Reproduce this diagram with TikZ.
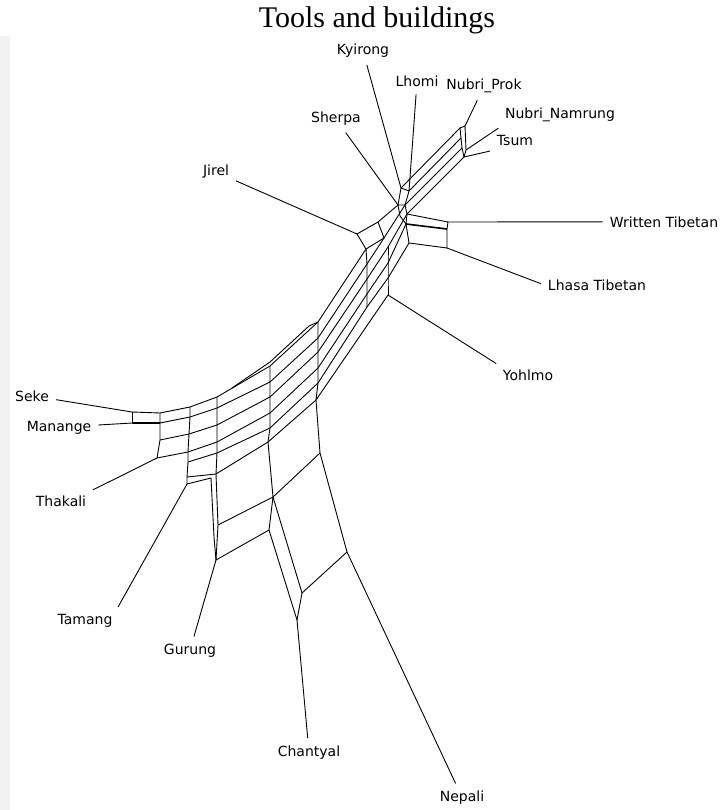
\documentclass[tikz,border=0pt]{standalone}
\usepackage{fontspec}
\setmainfont{Liberation Serif}
\newfontfamily\labelfont{DejaVu Sans}
\usetikzlibrary{positioning}

\begin{document}
\begin{tikzpicture}[x=1pt,y=-1pt,
    web/.style={line width=0.9pt,line join=round},
    heavy/.style={line width=1.6pt},
    leaf/.style={font=\labelfont\fontsize{14}{16}\selectfont,anchor=base,inner sep=4pt},
    tie/.style={web,shorten >=3pt}]
    \useasboundingbox (0,0) rectangle (724,810);
    \fill[black!5] (0,36) rectangle (10,810);

    % Title
    \node[font=\fontsize{30}{34}\selectfont,anchor=base] (title) at (377,28) {Tools and buildings};

    % Labels
    \node[leaf] (kyirong) at (363,55) {Kyirong};
    \node[leaf] (lhomi) at (417,87) {Lhomi};
    \node[leaf] (prok) at (484,90) {Nubri\_Prok};
    \node[leaf] (namrung) at (560,119) {Nubri\_Namrung};
    \node[leaf] (tsum) at (515,146) {Tsum};
    \node[leaf] (sherpa) at (336,123) {Sherpa};
    \node[leaf] (jirel) at (216,176) {Jirel};
    \node[leaf] (written) at (664,227) {Written Tibetan};
    \node[leaf] (lhasa) at (597,290) {Lhasa Tibetan};
    \node[leaf] (yohlmo) at (528,380) {Yohlmo};
    \node[leaf] (seke) at (32,401) {Seke};
    \node[leaf] (manange) at (59,431) {Manange};
    \node[leaf] (thakali) at (61,506) {Thakali};
    \node[leaf] (tamang) at (85,624) {Tamang};
    \node[leaf] (gurung) at (190,654) {Gurung};
    \node[leaf] (chantyal) at (309,756) {Chantyal};
    \node[leaf] (nepali) at (462,801) {Nepali};

    % Attachment points
    \coordinate (kyi) at (401,188);
    \coordinate (lho) at (409,191);
    \coordinate (she) at (398,205);
    \coordinate (jir) at (357,234);
    \coordinate (wri) at (448,222);
    \coordinate (lha) at (447,248);
    \coordinate (yoh) at (388,295);
    \coordinate (pro) at (465,126);
    \coordinate (nam) at (466,150);
    \coordinate (tsu) at (464,157);
    \coordinate (sek) at (132,412);
    \coordinate (man) at (132,423);
    \coordinate (tha) at (157,458);
    \coordinate (tam) at (187,484);
    \coordinate (gur) at (216,560);
    \coordinate (cha) at (297,620);
    \coordinate (nep) at (347,552);

    % Left block
    \draw[web] (sek) -- (man);
    \draw[web] (sek) -- (160,413);
    \draw[web,heavy] (man) -- (160,423);

    % Columns
    \draw[web] (160,413) -- (160,423) -- (160,440) -- (tha);
    \draw[web] (190,407) -- (190,417) -- (189,434) -- (188,452) -- (188,462) -- (187,477) -- (tam);
    \draw[web] (217,397) -- (217,408) -- (217,425) -- (217,442) -- (217,453) -- (216,474);
    \draw[web] (270,366) -- (270,382) -- (270,397) -- (270,413) -- (270,428) -- (268,442) -- (273,497) -- (269,530);
    \draw[web] (318,322) -- (318,338) -- (318,352) -- (318,368) -- (318,383) -- (316,400) -- (320,453) -- (nep);
    \draw[web] (366,249) -- (367,264) -- (367,279) -- (367,294) -- (367,307);
    \draw[web] (388,247) -- (388,263) -- (388,278) -- (yoh);

    % Rails
    \draw[web] (160,413) -- (190,407) -- (217,397) -- (270,366) -- (318,322) -- (366,249);
    \draw[web] (232,388) -- (270,362) -- (309,326) -- (318,322);
    \draw[web] (160,423) -- (190,417) -- (217,408) -- (270,382) -- (318,338) -- (367,264) -- (384,238) -- (405,205);
    \draw[web] (160,440) -- (189,434) -- (217,425) -- (270,397) -- (318,352) -- (367,279) -- (388,247) -- (407,214);
    \draw[web] (tha) -- (188,452) -- (217,442) -- (270,413) -- (318,368) -- (367,294) -- (388,263) -- (406,224);
    \draw[web] (188,462) -- (217,453) -- (270,428) -- (318,383) -- (367,307) -- (388,278) -- (409,243);
    \draw[web] (216,474) -- (268,442) -- (316,400) -- (yoh);

    % Jirel box
    \draw[web] (jir) -- (366,249) -- (384,238) -- (378,222) -- cycle;
    \draw[web] (378,222) -- (she);

    % Hub
    \draw[web] (kyi) -- (lho) -- (405,205) -- (she) -- cycle;
    \draw[web] (405,205) -- (407,214) -- (406,224) -- (409,243);
    \draw[web] (she) -- (400,216) -- (406,224);

    % Tibetan box
    \draw[web] (407,214) -- (wri) -- (447,229);
    \draw[web,heavy] (406,224) -- (447,229);
    \draw[web] (447,229) -- (lha) -- (409,243);

    % Nubri band
    \draw[web] (kyi) -- (460,128);
    \draw[web] (lho) -- (461,138);
    \draw[web] (405,205) -- (462,148);
    \draw[web] (407,214) -- (tsu);
    \draw[web] (460,128) -- (461,138) -- (462,148) -- (tsu) -- (nam) -- (pro) -- cycle;

    % Lower splits
    \draw[web] (187,477) -- (216,474);
    \draw[web] (tam) -- (211,478) -- (214,537) -- (gur);
    \draw[web] (216,474) -- (218,525) -- (gur);
    \draw[web] (218,525) -- (273,497) -- (320,453);
    \draw[web] (gur) -- (269,530) -- (cha);
    \draw[web] (273,497) -- (302,593) -- (cha);
    \draw[web] (302,593) -- (nep);

    % Leaf edges
    \draw[tie] (kyi) -- (kyirong);
    \draw[tie] (lho) -- (lhomi);
    \draw[tie] (pro) -- (prok);
    \draw[tie] (nam) -- (namrung.south west);
    \draw[tie] (tsu) -- (tsum.south west);
    \draw[tie] (she) -- (sherpa);
    \draw[tie] (jir) -- (jirel);
    \draw[tie] (wri) -- (written);
    \draw[tie] (lha) -- (lhasa.west);
    \draw[tie] (yoh) -- (yohlmo.north west);
    \draw[tie] (sek) -- (seke);
    \draw[tie] (man) -- (manange);
    \draw[tie] (tha) -- (thakali.north east);
    \draw[tie] (tam) -- (tamang.north east);
    \draw[tie] (gur) -- (gurung);
    \draw[tie] (cha) -- (chantyal);
    \draw[tie] (nep) -- (nepali);
\end{tikzpicture}
\end{document}
